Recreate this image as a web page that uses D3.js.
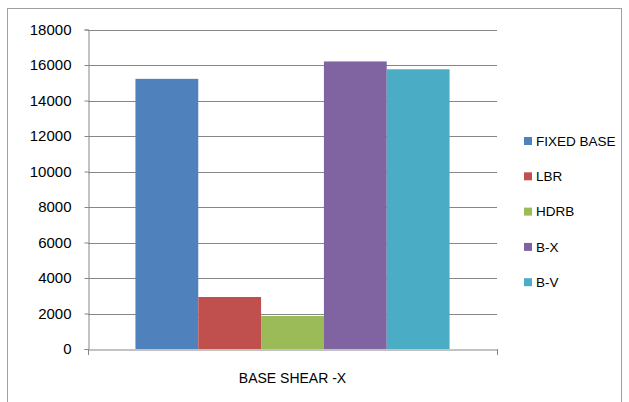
<!DOCTYPE html>
<html><head><meta charset="utf-8">
<script src="https://cdn.jsdelivr.net/npm/d3@7"></script>
<style>body{margin:0;background:#fff}svg{display:block}text{font-family:"Liberation Sans",Arial,sans-serif;fill:#000}</style>
</head><body><svg id="c" width="629" height="402"></svg>
<script>
const categories = ["BASE SHEAR -X"];
const seriesNames = ["FIXED BASE","LBR","HDRB","B-X","B-V"];
const seriesValues = [15220, 2930, 1860, 16200, 15760];
const seriesColors = ["#4f81bd","#c0504d","#9bbb59","#8064a2","#4bacc6"];
const yTicks = [0,2000,4000,6000,8000,10000,12000,14000,16000,18000];

const svg = d3.select("#c");
const m = {left:88, right:497, top:29.5, bottom:349};
// outer chart border
svg.append("rect").attr("x",7.5).attr("y",8.5).attr("width",614).attr("height",400).attr("fill","none").attr("stroke","#a0a0a0");

const y = d3.scaleLinear().domain([0,18000]).range([m.bottom,m.top]);
const x0 = d3.scaleBand().domain(categories).range([m.left,m.right]).paddingInner(0).paddingOuter(0.151);
const x1 = d3.scaleBand().domain(seriesNames).range([0,x0.bandwidth()]);

// gridlines
svg.append("g").selectAll("line").data(yTicks.filter(d=>d>0)).join("line")
  .attr("x1",m.left).attr("x2",m.right).attr("y1",d=>Math.round(y(d))+0.5).attr("y2",d=>Math.round(y(d))+0.5)
  .attr("stroke","#868686").attr("stroke-width",1);

// y axis
const ya = svg.append("g").attr("transform",`translate(${m.left+0.5},0)`)
  .call(d3.axisLeft(y).tickValues(yTicks).tickSize(4).tickPadding(13).tickFormat(d3.format("d")));
ya.select(".domain").attr("stroke","#868686");
ya.selectAll(".tick line").attr("stroke","#868686");
ya.selectAll(".tick text").attr("font-size",15).attr("font-family","Liberation Sans, Arial, sans-serif").attr("fill","#000");

// bars
svg.append("g").selectAll("rect").data(seriesValues).join("rect")
  .attr("x",(d,i)=>x0(categories[0])+x1(seriesNames[i]))
  .attr("width",x1.bandwidth())
  .attr("y",d=>y(d)).attr("height",d=>m.bottom-y(d))
  .attr("fill",(d,i)=>seriesColors[i]);

// x axis
const xa = svg.append("g").attr("transform",`translate(0,${m.bottom+0.5})`)
  .call(d3.axisBottom(x0).tickSize(0).tickPadding(24));
xa.select(".domain").attr("stroke","#868686");
xa.selectAll(".tick text").attr("font-size",14).attr("font-family","Liberation Sans, Arial, sans-serif").attr("fill","#000");
svg.append("g").selectAll("line").data([m.left,m.right]).join("line")
  .attr("x1",d=>d+0.5).attr("x2",d=>d+0.5).attr("y1",m.bottom).attr("y2",m.bottom+6).attr("stroke","#868686");

// legend
const lg = svg.append("g").selectAll("g").data(seriesNames).join("g")
  .attr("transform",(d,i)=>`translate(524,${141+i*35.3})`);
lg.append("rect").attr("x",0).attr("y",-4).attr("width",8).attr("height",8).attr("fill",(d,i)=>seriesColors[i]);
lg.append("text").attr("x",12).attr("y",0).attr("dy","0.35em").attr("font-size",13.5).text(d=>d);
</script></body></html>
